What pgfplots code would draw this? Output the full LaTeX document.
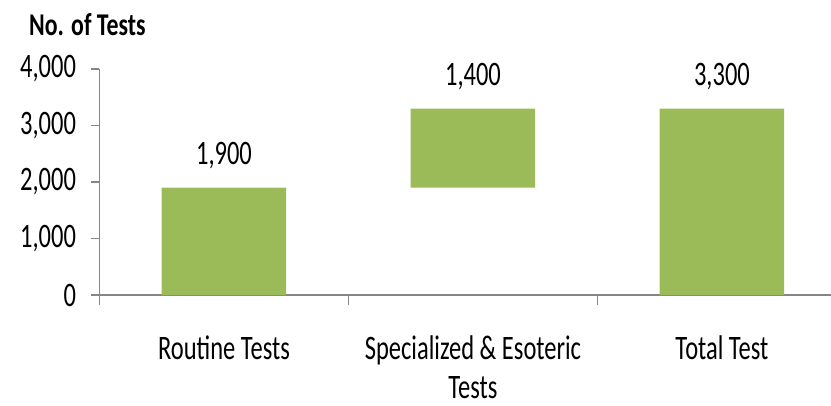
\documentclass[border=0pt]{standalone}
\usepackage{pgfplots}
\pgfplotsset{compat=1.18}
\usepackage{graphicx}
\usepackage{fontspec}
\setmainfont{Carlito}
\definecolor{bargreen}{HTML}{9BBB59}
\definecolor{axisgray}{HTML}{868686}
\newcommand{\vs}[1]{\scalebox{1}[1.4]{#1}}
\begin{document}
\begin{tikzpicture}
\useasboundingbox (0,0) rectangle (831pt,405pt);
\node[anchor=base west, inner sep=0pt, font=\fontsize{23.8}{28}\selectfont\bfseries] at (29pt,369pt) {\scalebox{1}[1.33]{No. of Tests}};
\begin{axis}[
  at={(99.5pt,110pt)}, anchor=south west,
  scale only axis, width=731.5pt, height=226pt,
  xmin=-0.5, xmax=2.438, ymin=0, ymax=4000,
  axis lines*=left,
  axis line style={draw=axisgray, line width=1.6pt},
  every tick/.style={draw=axisgray, line width=1.3pt},
  tick align=outside,
  major tick length=8pt, minor tick length=10pt,
  ytick={0,1000,2000,3000,4000},
  xtick={0,1,2},
  minor xtick={-0.5,0.5,1.5},
  major x tick style={draw=none},
  /pgf/number format/assume math mode=true,
  yticklabel={\vs{\pgfmathprintnumber{\tick}}},
  yticklabel style={font=\fontsize{24.5}{29}\selectfont, anchor=east, xshift=-12pt},
  xticklabels={{\vs{Routine Tests}}, {\begin{tabular}[t]{@{}c@{}}\vs{Specialized \& Esoteric}\\\vs{Tests}\end{tabular}}, {\vs{Total Test}}},
  xticklabel style={font=\fontsize{24.5}{39}\selectfont, anchor=base, yshift=-56pt},
  ybar, bar width=0.5, bar shift=0pt,
  clip=false,
]
% full bars
\addplot[draw=none, fill=bargreen] coordinates {(0,1900) (2,3300)};
% floating bar: 1,900 -> 3,300
\addplot[draw=none, fill=bargreen, sharp plot] coordinates {(0.75,1900) (1.25,1900) (1.25,3300) (0.75,3300) (0.75,1900)};
% value labels
\addplot[draw=none, fill=none,
  point meta=explicit,
  nodes near coords={\vs{\pgfmathprintnumber{\pgfplotspointmeta}}},
  every node near coord/.append style={font=\fontsize{24.5}{29}\selectfont, anchor=base, yshift=23pt, text=black},
] coordinates {(0,1900) [1900] (1,3300) [1400] (2,3300) [3300]};
\end{axis}
\end{tikzpicture}
\end{document}
